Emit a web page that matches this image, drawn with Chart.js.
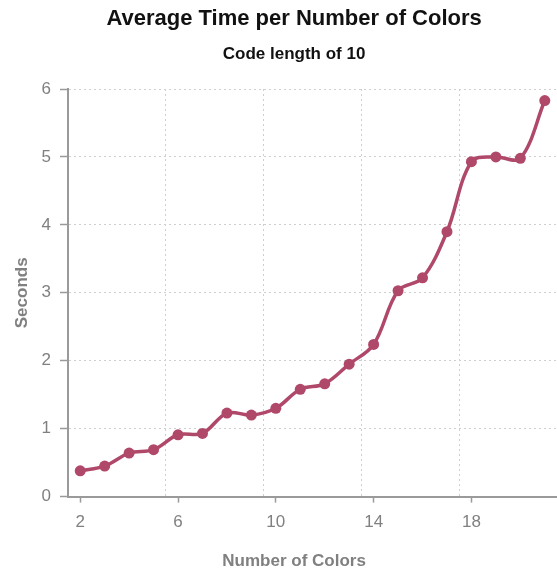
<!DOCTYPE html>
<html lang="en">
<head>
  <meta charset="utf-8" />
  <title>Average Time per Number of Colors</title>
  <script src="https://cdn.jsdelivr.net/npm/chart.js@4/dist/chart.umd.min.js"></script>
  <style>
    html, body { margin: 0; padding: 0; background: #fff; overflow: hidden; }
    #wrap { position: relative; width: 557px; height: 575px; }
  </style>
</head>
<body>
  <div id="wrap"><canvas id="chart"></canvas></div>

  <script>
    // data
    const TITLE = 'Average Time per Number of Colors';
    const SUBTITLE = 'Code length of 10';
    const X_TITLE = 'Number of Colors';
    const Y_TITLE = 'Seconds';

    const colorCounts = [2, 3, 4, 5, 6, 7, 8, 9, 10, 11, 12, 13, 14, 15, 16, 17, 18, 19, 20, 21];
    const seconds     = [0.38, 0.45, 0.64, 0.69, 0.91, 0.93, 1.23, 1.20, 1.30, 1.58,
                         1.66, 1.95, 2.24, 3.03, 3.22, 3.90, 4.93, 5.00, 4.98, 5.83];
    const xTicks      = [2, 6, 10, 14, 18];
    const xGridLines  = [5.5, 9.5, 13.5, 17.5];
    const yTicks      = [0, 1, 2, 3, 4, 5, 6];

    const FONT = '"Liberation Sans", Arial, Helvetica, sans-serif';
    const AXIS = '#9a9a9a';
    const GRID = '#cfcfcf';
    const LABEL = '#808080';
    const LINE = '#b0486a';

    // titles centred the way the original was
    const titlePlugin = {
      id: 'titles',
      afterDraw(chart) {
        const ctx = chart.ctx;
        const cx = chart.width * 0.528;
        ctx.save();
        ctx.textAlign = 'center';
        ctx.textBaseline = 'alphabetic';
        ctx.fillStyle = '#111';
        ctx.font = 'bold 22px ' + FONT;
        ctx.fillText(TITLE, cx, 25);
        ctx.font = 'bold 17px ' + FONT;
        ctx.fillText(SUBTITLE, cx, 59);
        ctx.fillStyle = LABEL;
        ctx.fillText(X_TITLE, cx, 566);
        ctx.restore();
      }
    };

    new Chart(document.getElementById('chart'), {
      type: 'line',
      data: {
        datasets: [{
          data: colorCounts.map((c, i) => ({ x: c, y: seconds[i] })),
          borderColor: LINE,
          backgroundColor: LINE,
          borderWidth: 3.5,
          pointRadius: 5.5,
          pointBorderWidth: 0,
          tension: 0.35,
          clip: false
        }]
      },
      options: {
        responsive: true,
        maintainAspectRatio: false,
        animation: false,
        layout: { autoPadding: false, padding: { top: 89, right: 0, bottom: 32, left: 0 } },
        plugins: {
          legend: { display: false },
          tooltip: { enabled: false }
        },
        scales: {
          x: {
            type: 'linear',
            min: 1.5,
            max: 21.5,
            afterBuildTicks: s => { s.ticks = xTicks.map(v => ({ value: v })); },
            grid: {
              drawOnChartArea: false,
              tickLength: 6,
              tickColor: AXIS,
              tickWidth: 1.5,
              tickBorderDash: []
            },
            border: { color: AXIS, width: 2 },
            ticks: {
              color: LABEL,
              padding: 10,
              maxRotation: 0,
              font: { family: FONT, size: 17 }
            }
          },
          x2: {
            type: 'linear',
            position: 'bottom',
            min: 1.5,
            max: 21.5,
            afterBuildTicks: s => { s.ticks = xGridLines.map(v => ({ value: v })); },
            afterFit: s => { s.height = 0; },
            grid: {
              color: GRID,
              lineWidth: 1,
              drawTicks: false
            },
            border: { display: false, dash: [2, 3] },
            ticks: { display: false }
          },
          y: {
            min: 0,
            max: 6,
            afterBuildTicks: s => { s.ticks = yTicks.map(v => ({ value: v })); },
            afterFit: s => { s.width = 68; },
            grid: {
              color: GRID,
              lineWidth: 1,
              tickLength: 8,
              tickColor: AXIS,
              tickWidth: 1.5,
              tickBorderDash: []
            },
            border: { color: AXIS, width: 2, dash: [2, 3] },
            ticks: {
              color: LABEL,
              padding: 9,
              font: { family: FONT, size: 17 }
            },
            title: {
              display: true,
              text: Y_TITLE,
              color: LABEL,
              padding: { top: 12, bottom: 0 },
              font: { family: FONT, size: 17, weight: 'bold' }
            }
          }
        }
      },
      plugins: [titlePlugin]
    });
  </script>
</body>
</html>
